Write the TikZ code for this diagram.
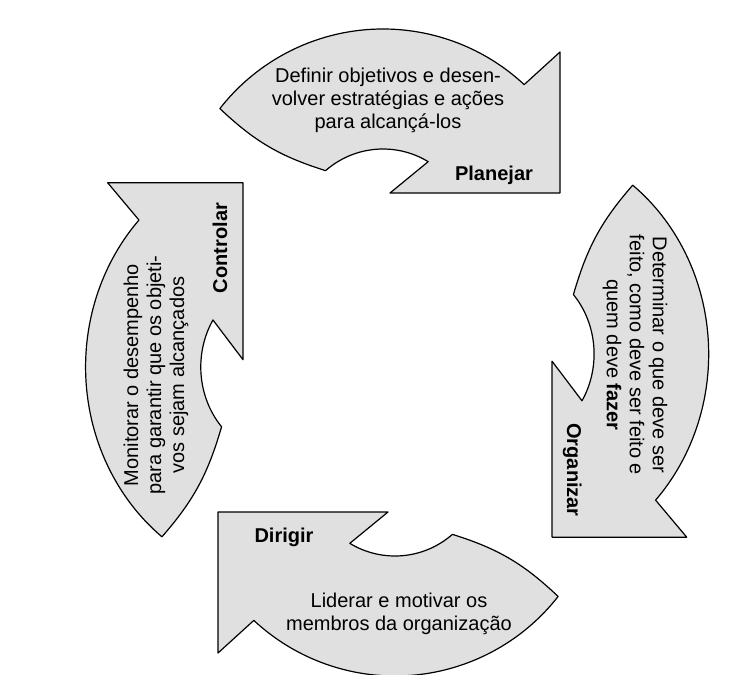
\documentclass[tikz,border=0pt]{standalone}
\usepackage{fontspec}
\setmainfont{Liberation Sans}

% contorno de uma seta do ciclo (orientacao de "Planejar")
\newcommand{\cyclearrowpath}{(142:207) arc[start angle=142,end angle=47,radius=207] -- (177,184) -- (177,43) -- (7,43) -- (58.7:87) arc[start angle=58.7,end angle=131.3,radius=87] to[bend left=13] (142:207) -- cycle}

\begin{document}
\begin{tikzpicture}[x=0.5pt,y=0.5pt,
  cyclearrow/.style={draw=black,fill=black!12,line width=0.6pt,line join=round},
  desc/.style={align=center,inner sep=0pt,font=\fontsize{10}{11.5}\selectfont},
  phase/.style={inner sep=0pt,anchor=base,font=\fontsize{10}{12}\selectfont\bfseries}]
\useasboundingbox (0,0) rectangle (734,-675);
% as quatro setas
\draw[cyclearrow,shift={(383,-236)}] \cyclearrowpath;
\draw[cyclearrow,shift={(511,-354)},xscale=0.955,yscale=1.035,rotate=-90] \cyclearrowpath;
\draw[cyclearrow,shift={(395,-469)},rotate=180] \cyclearrowpath;
\draw[cyclearrow,shift={(284.3,-367)},xscale=0.96,yscale=1.041,rotate=90] \cyclearrowpath;
% textos
\node[desc] (plan-txt) at (388,-100) {Definir objetivos e desen-\\volver estratégias e ações\\para alcançá-los};
\node[phase] (plan-lbl) at (494,-180) {Planejar};
\node[desc,rotate=-90] (org-txt) at (635,-355) {Determinar o que deve ser\\feito, como deve ser feito e\\quem deve \textbf{fazer}};
\node[phase,rotate=-90] (org-lbl) at (567,-470) {Organizar};
\node[desc] (dir-txt) at (399,-614) {Liderar e motivar os\\membros da organização};
\node[phase] (dir-lbl) at (284,-542) {Dirigir};
\node[desc,rotate=90] (ctl-txt) at (156,-375) {Monitorar o desempenho\\para garantir que os objeti-\\vos sejam alcançados};
\node[phase,rotate=90] (ctl-lbl) at (227,-248) {Controlar};
\end{tikzpicture}
\end{document}
